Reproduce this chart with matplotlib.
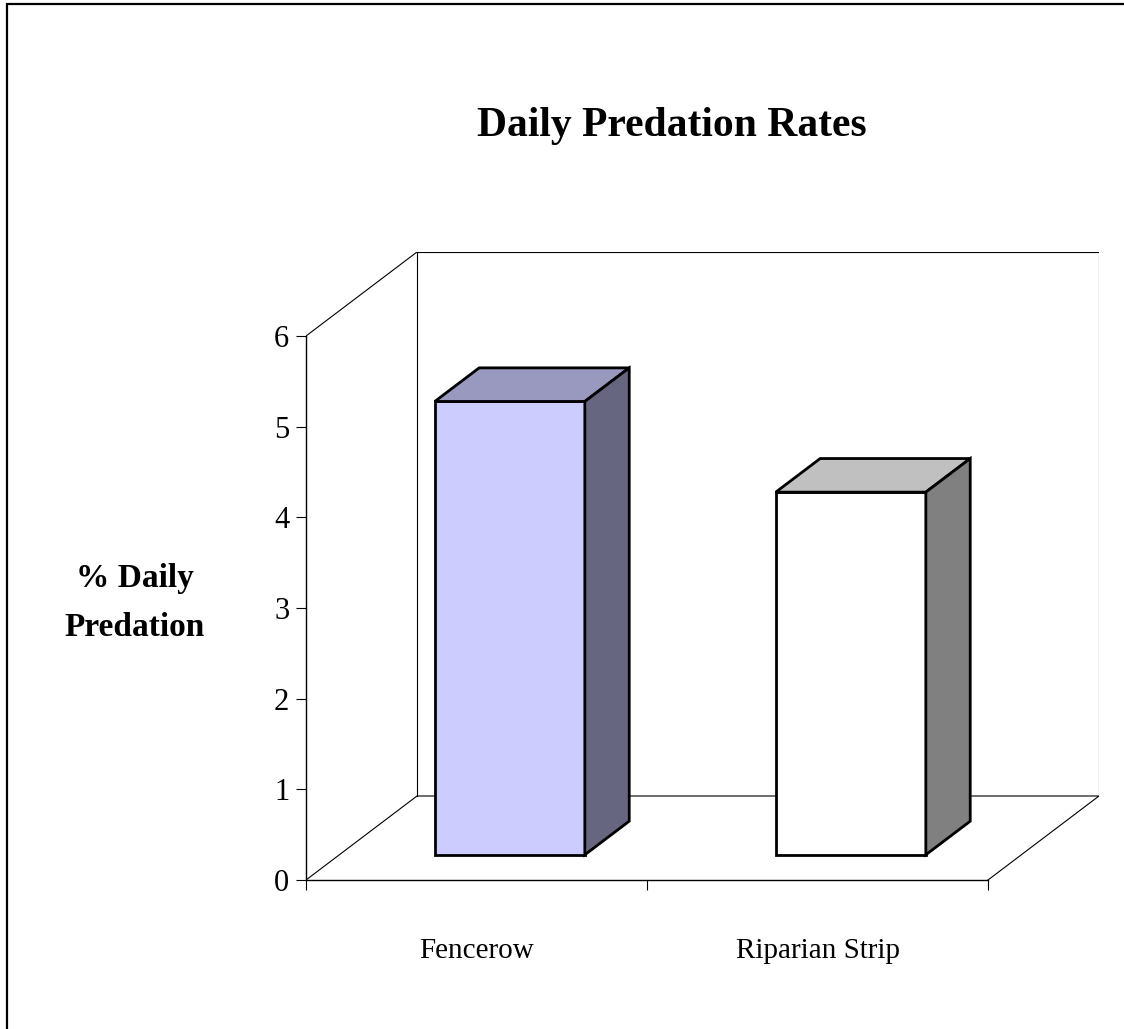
import matplotlib.pyplot as plt
from matplotlib.patches import Polygon, Rectangle

# data
categories = ["Fencerow", "Riparian Strip"]
rates = [5.0, 4.0]
y_ticks = [0, 1, 2, 3, 4, 5, 6]

# face colours (front, top, side)
front_colors = ["#CCCCFF", "#FFFFFF"]
top_colors = ["#9999BF", "#C0C0C0"]
side_colors = ["#666680", "#808080"]

# oblique depth offset in data units (x: categories, y: value)
DX = 0.3255
DY = 0.9265
F, B = 0.3, 0.7   # bar front / back depth fractions
W = 0.44          # bar width

plt.rcParams["font.family"] = ["Liberation Serif", "DejaVu Serif"]

fig = plt.figure(figsize=(11.24, 10.29), dpi=100)
ax = fig.add_axes([306 / 1124, (1029 - 880) / 1029, (1099 - 306) / 1124, (880 - 252) / 1029])
ax.set_xlim(0, 2 + DX)
ax.set_ylim(0, 6 + DY)

n = len(categories)
ymax = y_ticks[-1]
wall = dict(color="black", lw=0.8, zorder=1)

# back wall
ax.plot([DX, DX, n + DX, n + DX], [DY, ymax + DY, ymax + DY, DY], **wall)
ax.plot([0, DX], [ymax, ymax + DY], **wall)
# floor
ax.plot([0, DX, n + DX, n], [0, DY, DY, 0], **wall)

# bars: front faces
centers = [i + 0.5 for i in range(n)]
ax.bar([c + F * DX for c in centers], rates, bottom=F * DY, width=W,
       color=front_colors, edgecolor="black", linewidth=2, zorder=3)

# bars: top and side faces
for c, v, tc, sc in zip(centers, rates, top_colors, side_colors):
    xl, xr = c - W / 2, c + W / 2
    top = [(xl + F * DX, v + F * DY), (xr + F * DX, v + F * DY),
           (xr + B * DX, v + B * DY), (xl + B * DX, v + B * DY)]
    side = [(xr + F * DX, F * DY), (xr + F * DX, v + F * DY),
            (xr + B * DX, v + B * DY), (xr + B * DX, B * DY)]
    ax.add_patch(Polygon(top, closed=True, facecolor=tc, edgecolor="black",
                         lw=2, joinstyle="miter", zorder=3))
    ax.add_patch(Polygon(side, closed=True, facecolor=sc, edgecolor="black",
                         lw=2, joinstyle="miter", zorder=3))

# axes
for s in ["top", "right"]:
    ax.spines[s].set_visible(False)
ax.spines["left"].set_bounds(0, ymax)
ax.spines["bottom"].set_bounds(0, n)
ax.spines["left"].set_linewidth(1.0)
ax.spines["bottom"].set_linewidth(1.0)

ax.set_yticks(y_ticks)
ax.tick_params(axis="y", length=7, width=0.8, direction="out", labelsize=22, pad=5)
ax.set_xticks(range(n + 1))
ax.set_xticklabels([])
ax.tick_params(axis="x", which="major", length=7, width=0.8, direction="out")
ax.set_xticks(centers, minor=True)
ax.set_xticklabels(categories, minor=True)
ax.tick_params(axis="x", which="minor", length=0, labelsize=21, pad=42)

# titles
fig.text(867 / 1124, 1 - 136 / 1029, "Daily Predation Rates",
         ha="right", va="baseline", fontsize=30, fontweight="bold")
fig.text(135 / 1124, 1 - 603 / 1029, "% Daily\nPredation", ha="center", va="center",
         fontsize=24, fontweight="bold", linespacing=1.75)

# outer frame
fig.add_artist(Rectangle((7 / 1124, -0.1), 1.2, 1.1 - 4 / 1029, fill=False,
                         edgecolor="black", lw=1.6, transform=fig.transFigure))

fig.savefig("out.png", dpi=100)
